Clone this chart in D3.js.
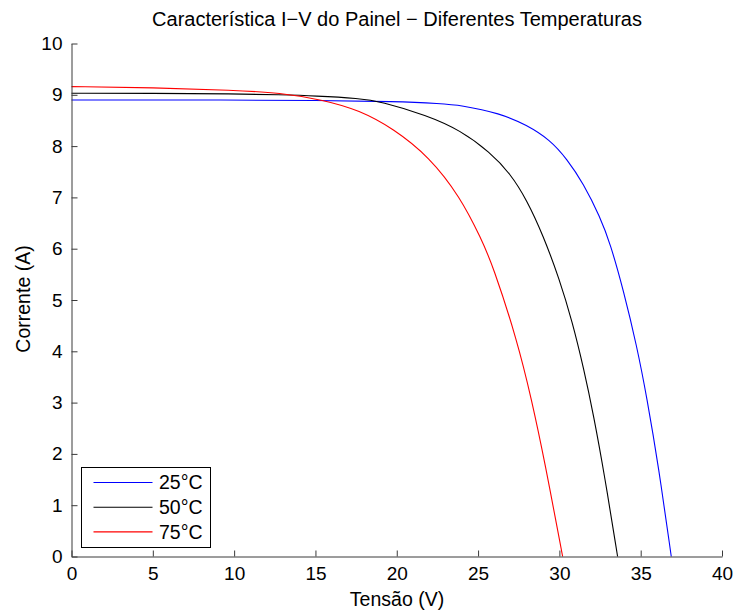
<!DOCTYPE html>
<html lang="en">
<head>
<meta charset="UTF-8">
<title>Característica I-V</title>
<script src="https://d3js.org/d3.v7.min.js"></script>
<style>
    body { margin: 0; background: #fff; }
    svg { display: block; font-family: "Liberation Sans", Arial, sans-serif; }
</style>
</head>
<body>
<svg id="chart" width="735" height="612"></svg>
<script>
// values
const v25 = [0, 10, 15, 20, 22.7, 23.9, 26.35, 28.0, 29.43, 30.46, 31.48, 32.5, 33.13, 33.94, 34.77, 35.38, 36.1, 36.88];
const i25 = [8.90, 8.90, 8.89, 8.87, 8.83, 8.80, 8.64, 8.41, 8.12, 7.75, 7.27, 6.62, 6.10, 5.19, 4.09, 3.10, 1.75, 0];

const v50 = [0, 5, 10, 12.8, 15, 17.7, 19.0, 21.85, 23.9, 25.74, 26.97, 28.0, 29.0, 30.0, 30.8, 31.5, 32.1, 32.8, 33.58];
const i50 = [9.03, 9.03, 9.02, 9.00, 8.98, 8.93, 8.87, 8.60, 8.31, 7.88, 7.47, 6.95, 6.26, 5.41, 4.57, 3.66, 2.76, 1.54, 0];

const v75 = [0, 5, 10, 12.8, 15.5, 17.7, 19.8, 22.0, 23.9, 25.2, 25.9, 27.4, 28.3, 29.1, 30.2];
const i75 = [9.16, 9.14, 9.09, 9.04, 8.90, 8.70, 8.34, 7.79, 7.01, 6.19, 5.68, 4.22, 3.05, 1.85, 0];

const labels = ["25°C", "50°C", "75°C"];
const colors = ["#0000ff", "#000000", "#ff0000"];
const xTicks = [0, 5, 10, 15, 20, 25, 30, 35, 40];
const yTicks = [0, 1, 2, 3, 4, 5, 6, 7, 8, 9, 10];

const series = [
    { name: labels[0], color: colors[0], pts: v25.map((v, k) => [v, i25[k]]) },
    { name: labels[1], color: colors[1], pts: v50.map((v, k) => [v, i50[k]]) },
    { name: labels[2], color: colors[2], pts: v75.map((v, k) => [v, i75[k]]) }
];

const svg = d3.select("#chart");
const margin = { top: 43.5, right: 13, bottom: 55.5, left: 71.5 };
const width = 735 - margin.left - margin.right;
const height = 612 - margin.top - margin.bottom;

const x = d3.scaleLinear().domain([0, 40]).range([margin.left, margin.left + width]);
const y = d3.scaleLinear().domain([0, 10]).range([margin.top + height, margin.top]);

const line = d3.line()
    .x(d => x(d[0]))
    .y(d => y(d[1]))
    .curve(d3.curveBasis);

svg.selectAll("path.curve")
    .data(series)
    .enter().append("path")
    .attr("class", "curve")
    .attr("d", d => line(d.pts))
    .attr("fill", "none")
    .attr("stroke", d => d.color)
    .attr("stroke-width", 1.1);

// axes (ticks pointing inward, no box)
const xAxis = d3.axisBottom(x).tickValues(xTicks).tickSizeInner(-6).tickSizeOuter(0).tickPadding(10);
const yAxis = d3.axisLeft(y).tickValues(yTicks).tickSizeInner(-6).tickSizeOuter(0).tickPadding(9);

const gx = svg.append("g")
    .attr("transform", `translate(0,${margin.top + height})`)
    .call(xAxis);
const gy = svg.append("g")
    .attr("transform", `translate(${margin.left},0)`)
    .call(yAxis);

[gx, gy].forEach(g => {
    g.select(".domain").attr("stroke", "#3a3a3a");
    g.selectAll(".tick line").attr("stroke", "#3a3a3a");
    g.selectAll(".tick text").attr("fill", "#000").style("font-size", "19px")
        .style("font-family", "'Liberation Sans', Arial, sans-serif");
});

// title and labels
svg.append("text")
    .attr("x", 397)
    .attr("y", 26)
    .attr("text-anchor", "middle")
    .style("font-size", "20px")
    .text("Característica I\u2212V do Painel \u2212 Diferentes Temperaturas");

svg.append("text")
    .attr("x", 397)
    .attr("y", 606)
    .attr("text-anchor", "middle")
    .style("font-size", "19.5px")
    .text("Tensão (V)");

svg.append("text")
    .attr("transform", "translate(30,299) rotate(-90)")
    .attr("text-anchor", "middle")
    .style("font-size", "19.5px")
    .text("Corrente (A)");

// legend
const legend = svg.append("g").attr("transform", "translate(81.5,467.5)");
legend.append("rect")
    .attr("width", 129)
    .attr("height", 80)
    .attr("fill", "#fff")
    .attr("stroke", "#000")
    .attr("stroke-width", 1);

const item = legend.selectAll("g.item")
    .data(series)
    .enter().append("g")
    .attr("class", "item")
    .attr("transform", (d, k) => `translate(0,${15 + k * 24.7})`);

item.append("line")
    .attr("x1", 12)
    .attr("x2", 71)
    .attr("stroke", d => d.color)
    .attr("stroke-width", 1.1);

item.append("text")
    .attr("x", 77.5)
    .attr("dy", "0.35em")
    .style("font-size", "19.5px")
    .text(d => d.name);
</script>
</body>
</html>
